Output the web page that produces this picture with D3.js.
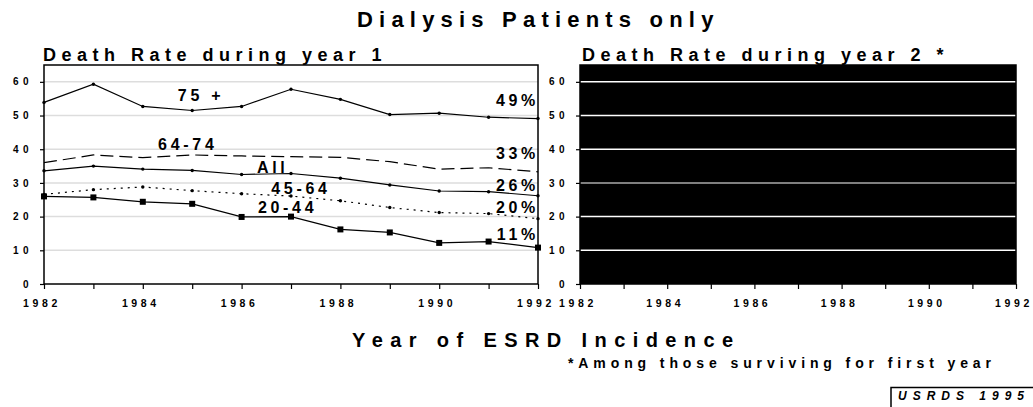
<!DOCTYPE html>
<html>
<head>
<meta charset="utf-8">
<script src="https://cdn.jsdelivr.net/npm/d3@7"></script>
<style>
  body { margin: 0; background: #fff; }
  text { font-family: "Liberation Sans", Arial, sans-serif; font-weight: bold; fill: #000; }
</style>
</head>
<body>
<svg id="chart" width="1033" height="407"></svg>
<script>
// years on the x axis
const years = [1982, 1983, 1984, 1985, 1986, 1987, 1988, 1989, 1990, 1991, 1992];
const yTicks = [0, 10, 20, 30, 40, 50, 60];
const xTickLabels = [1982, 1984, 1986, 1988, 1990, 1992];

// death rate during year 1, percent
const age75plus = [53.9, 59.3, 52.7, 51.5, 52.7, 57.8, 54.8, 50.3, 50.7, 49.5, 49.1];
const age64to74 = [36.0, 38.3, 37.5, 38.3, 38.0, 37.8, 37.6, 36.3, 34.1, 34.5, 33.3];
const ageAll = [33.6, 35.0, 34.1, 33.7, 32.5, 32.8, 31.4, 29.4, 27.6, 27.4, 26.2];
const age45to64 = [26.6, 28.0, 28.8, 27.7, 26.8, 26.1, 24.7, 22.7, 21.2, 20.9, 19.4];
const age20to44 = [26.0, 25.7, 24.4, 23.8, 19.9, 20.0, 16.2, 15.3, 12.2, 12.6, 10.8];

const seriesNames = ["75 +", "64-74", "All", "45-64", "20-44"];
const endLabels = ["49%", "33%", "26%", "20%", "11%"];

const svg = d3.select("#chart");
const plotTop = 65, plotBottom = 284;

const y = d3.scaleLinear().domain([0, 65]).range([plotBottom, plotTop]);
const x1 = d3.scaleLinear().domain([1982, 1992]).range([44, 538]);
const x2 = d3.scaleLinear().domain([1982, 1992]).range([580, 1016]);

// titles
svg.append("text").attr("x", 357).attr("y", 27)
  .style("font-size", "22px").style("letter-spacing", "6.2px").text("Dialysis Patients only");
svg.append("text").attr("x", 43).attr("y", 61)
  .style("font-size", "18px").style("letter-spacing", "5.5px").text("Death Rate during year 1");
svg.append("text").attr("x", 582).attr("y", 61)
  .style("font-size", "18px").style("letter-spacing", "5.5px").text("Death Rate during year 2 *");

function drawPanel(x, dark) {
  const g = svg.append("g");
  g.append("rect").attr("x", x.range()[0]).attr("y", plotTop)
    .attr("width", x.range()[1] - x.range()[0]).attr("height", plotBottom - plotTop)
    .attr("fill", dark ? "#000" : "#fff");

  g.selectAll("line.grid").data(yTicks.filter(d => d > 0)).enter().append("line")
    .attr("x1", x.range()[0]).attr("x2", x.range()[1])
    .attr("y1", d => y(d)).attr("y2", d => y(d))
    .attr("stroke", d => dark ? (d === 30 ? "#aaa" : "#fff") : "#ddd")
    .attr("stroke-width", 1.5);

  g.append("rect").attr("x", x.range()[0]).attr("y", plotTop)
    .attr("width", x.range()[1] - x.range()[0]).attr("height", plotBottom - plotTop)
    .attr("fill", "none").attr("stroke", "#000").attr("stroke-width", 1.5);

  const xAxis = g.append("g").attr("transform", `translate(0,${plotBottom})`)
    .call(d3.axisBottom(x).tickValues(years).tickSize(5).tickFormat(""));
  xAxis.select(".domain").remove();
  xAxis.selectAll("line").attr("stroke-width", 1.2);

  g.selectAll("text.xl").data(xTickLabels).enter().append("text")
    .attr("x", d => x(d) - 2).attr("y", plotBottom + 23).attr("text-anchor", "middle")
    .style("font-size", "10.5px").style("letter-spacing", "3.6px").text(d => d);

  const yAxis = g.append("g").attr("transform", `translate(${x.range()[0]},0)`)
    .call(d3.axisLeft(y).tickValues(yTicks).tickSize(4).tickFormat(""));
  yAxis.select(".domain").remove();
  yAxis.selectAll("line").attr("stroke-width", 1.2);

  g.selectAll("text.yl").data(yTicks).enter().append("text")
    .attr("x", x.range()[0] - 11).attr("y", d => y(d) + 3.6).attr("text-anchor", "end")
    .style("font-size", "10px").style("letter-spacing", "4.5px").text(d => d);
}

drawPanel(x1, false);
drawPanel(x2, true);

// year 1 lines
const line = d3.line().x((d, i) => x1(years[i])).y(d => y(d));
const series = [
  { values: age75plus, dash: null, marker: "dot" },
  { values: age64to74, dash: "13,6", marker: "none" },
  { values: ageAll, dash: null, marker: "dot" },
  { values: age45to64, dash: "2,5", marker: "dot" },
  { values: age20to44, dash: null, marker: "square" }
];

series.forEach(s => {
  svg.append("path").datum(s.values).attr("d", line)
    .attr("fill", "none").attr("stroke", "#000")
    .attr("stroke-width", 1.2).attr("stroke-dasharray", s.dash);
  if (s.marker === "dot") {
    svg.selectAll(null).data(s.values).enter().append("circle")
      .attr("cx", (d, i) => x1(years[i])).attr("cy", d => y(d)).attr("r", 1.7).attr("fill", "#000");
  } else if (s.marker === "square") {
    svg.selectAll(null).data(s.values).enter().append("rect")
      .attr("x", (d, i) => x1(years[i]) - 3).attr("y", d => y(d) - 3)
      .attr("width", 6).attr("height", 6).attr("fill", "#000");
  }
});

// series labels inside the chart (left edge year, baseline value)
const labelPos = [[1984.71, 54.4], [1984.31, 39.8], [1986.31, 33.0], [1986.6, 26.7], [1986.33, 21.1]];
seriesNames.forEach((n, i) => {
  svg.append("text").attr("x", x1(labelPos[i][0])).attr("y", y(labelPos[i][1]))
    .style("font-size", "16px").style("letter-spacing", "3.7px").text(n);
});
const endPos = [52.8, 37.1, 27.7, 21.1, 13.1];
endLabels.forEach((n, i) => {
  svg.append("text").attr("x", x1(1992) + 1).attr("y", y(endPos[i]))
    .attr("text-anchor", "end").style("font-size", "16px").style("letter-spacing", "3.7px").text(n);
});

// bottom texts
svg.append("text").attr("x", 352).attr("y", 347)
  .style("font-size", "20px").style("letter-spacing", "7.4px").text("Year of ESRD Incidence");
svg.append("text").attr("x", 568).attr("y", 368)
  .style("font-size", "14px").style("letter-spacing", "4.9px").text("*Among those surviving for first year");

svg.append("path").attr("d", "M891,407V387.5H1033").attr("fill", "none").attr("stroke", "#000").attr("stroke-width", 1.5);
svg.append("text").attr("x", 898).attr("y", 399.5).style("font-style", "italic")
  .style("font-size", "12px").style("letter-spacing", "6px").text("USRDS 1995");
</script>
</body>
</html>
